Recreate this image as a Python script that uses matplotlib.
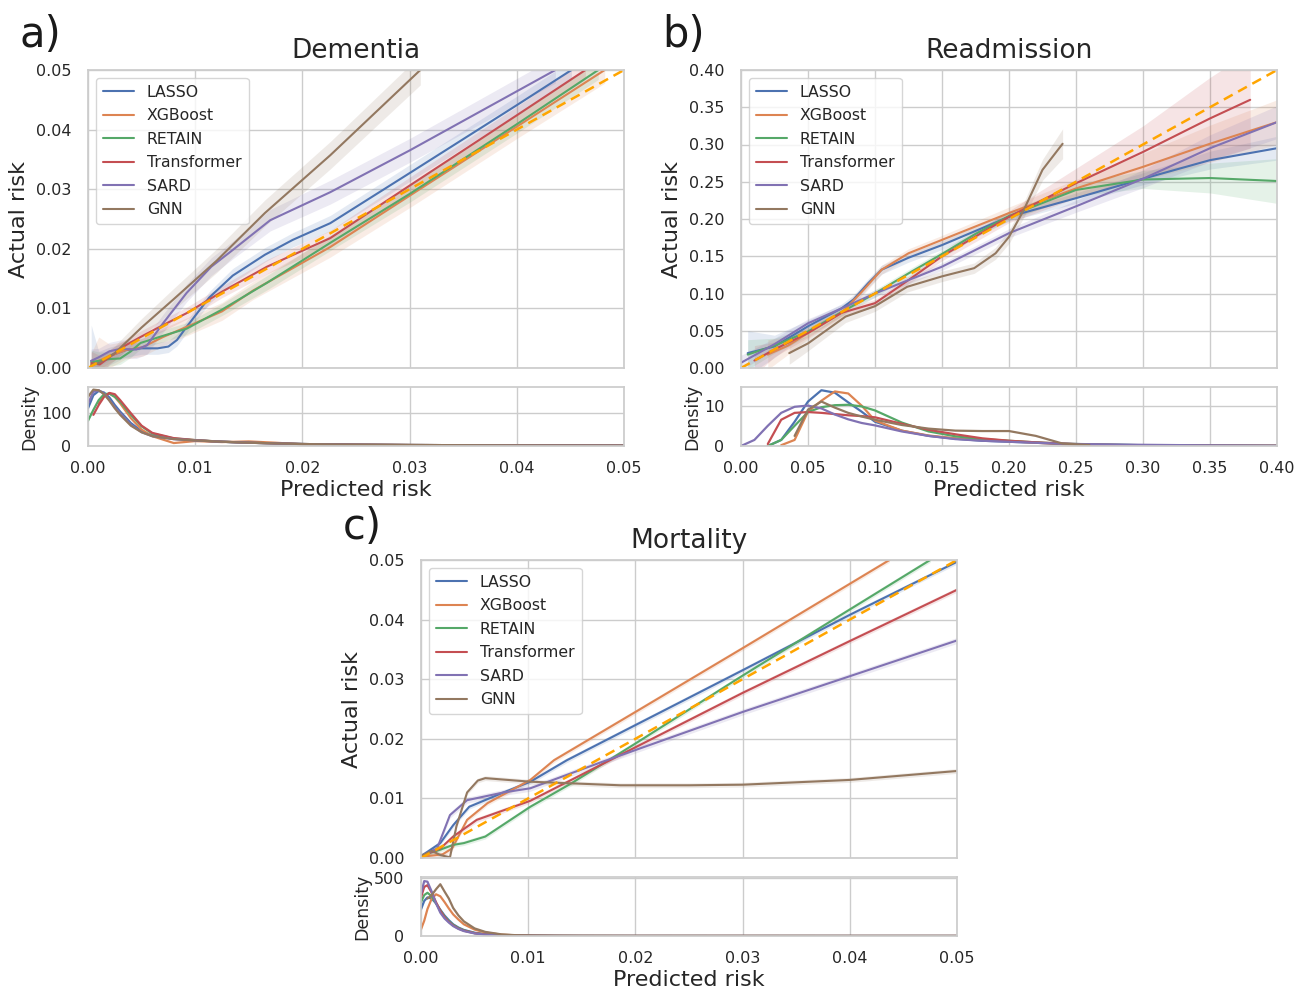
import numpy as np
import matplotlib
matplotlib.use("Agg")
import matplotlib.pyplot as plt
import seaborn as sns

sns.set_style("whitegrid")
plt.rcParams['font.family'] = ['DejaVu Sans']

models = ["LASSO", "XGBoost", "RETAIN", "Transformer", "SARD", "GNN"]
colors = ["#4c72b0", "#dd8452", "#55a868", "#c44e52", "#8172b3", "#937860"]

# ---------------- Panel a: Dementia ----------------
dem_x = {
    "LASSO": [0.0003, 0.001, 0.002, 0.0035, 0.005, 0.0065, 0.0075, 0.0083, 0.0092, 0.0113, 0.0135, 0.0165, 0.0191, 0.0226, 0.03, 0.04, 0.0451],
    "XGBoost": [0.0003, 0.001, 0.002, 0.0035, 0.0051, 0.007, 0.0092, 0.0125, 0.0154, 0.0226, 0.03, 0.04, 0.0482],
    "RETAIN": [0.0003, 0.001, 0.002, 0.003, 0.004, 0.0049, 0.007, 0.0092, 0.0125, 0.0167, 0.0226, 0.03, 0.04, 0.0476],
    "Transformer": [0.0003, 0.0011, 0.002, 0.0035, 0.0049, 0.007, 0.0092, 0.0125, 0.0167, 0.0226, 0.03, 0.04, 0.0464],
    "SARD": [0.0003, 0.001, 0.002, 0.003, 0.0045, 0.0055, 0.007, 0.0092, 0.0115, 0.0135, 0.017, 0.0226, 0.03, 0.0436],
    "GNN": [0.0003, 0.001, 0.0025, 0.005, 0.0079, 0.012, 0.0165, 0.0226, 0.031],
}
dem_y = {
    "LASSO": [0.0012, 0.0008, 0.002, 0.003, 0.0033, 0.0033, 0.0036, 0.0047, 0.0069, 0.0118, 0.0155, 0.019, 0.0215, 0.0243, 0.0327, 0.0441, 0.050],
    "XGBoost": [0.0005, 0.0012, 0.002, 0.003, 0.0035, 0.0052, 0.0069, 0.0095, 0.013, 0.0203, 0.0289, 0.0405, 0.050],
    "RETAIN": [0.001, 0.0012, 0.0015, 0.0016, 0.0028, 0.0042, 0.0054, 0.0066, 0.0098, 0.0143, 0.021, 0.0292, 0.0409, 0.050],
    "Transformer": [0.0008, 0.0006, 0.0018, 0.0038, 0.0052, 0.0072, 0.0092, 0.0128, 0.017, 0.0218, 0.0306, 0.0424, 0.050],
    "SARD": [0.0012, 0.0018, 0.0028, 0.0032, 0.0031, 0.0038, 0.0075, 0.0126, 0.017, 0.0198, 0.0248, 0.0295, 0.0365, 0.050],
    "GNN": [0.0005, 0.0008, 0.0025, 0.0068, 0.0114, 0.018, 0.026, 0.0357, 0.050],
}
dem_ci = {
    "LASSO": [0.006, 0.002, 0.0015, 0.0012, 0.001, 0.001, 0.001, 0.001, 0.001, 0.001, 0.0012, 0.0012, 0.0012, 0.0013, 0.0014, 0.0015, 0.0016],
    "XGBoost": [0.002, 0.004, 0.002, 0.0015, 0.0015, 0.0015, 0.0015, 0.0015, 0.0015, 0.0017, 0.002, 0.002, 0.0022],
    "RETAIN": [0.002, 0.0015, 0.0012, 0.001, 0.001, 0.001, 0.001, 0.001, 0.001, 0.0012, 0.0013, 0.0014, 0.0015, 0.0016],
    "Transformer": [0.002, 0.0015, 0.0012, 0.001, 0.001, 0.001, 0.001, 0.001, 0.0012, 0.0013, 0.0014, 0.0015, 0.0016],
    "SARD": [0.002, 0.0015, 0.0015, 0.0015, 0.0015, 0.0015, 0.0015, 0.0015, 0.0015, 0.0015, 0.0018, 0.002, 0.002, 0.0022],
    "GNN": [0.001, 0.001, 0.0012, 0.0015, 0.0018, 0.002, 0.0022, 0.0023, 0.0025],
}
dem_dens_x = [0, 0.0005, 0.001, 0.0015, 0.002, 0.0025, 0.003, 0.004, 0.005, 0.006, 0.008, 0.01,
              0.0125, 0.015, 0.0175, 0.02, 0.025, 0.03, 0.04, 0.05]
nan = np.nan
dem_dens = {
    "LASSO": [115, 155, 168, 163, 148, 125, 105, 70, 45, 32, 22, 17, 13, 10, 8, 6, 4, 3, 2, 1],
    "XGBoost": [nan, nan, 130, 155, 160, 150, 130, 85, 50, 30, 9, 15, 12, 14, 10, 5, 4, 3, 2, 1],
    "RETAIN": [77, 110, 140, 158, 160, 150, 135, 95, 60, 38, 23, 18, 13, 10, 8, 6, 4, 3, 2, 1],
    "Transformer": [nan, 95, 125, 150, 162, 158, 140, 100, 62, 40, 24, 18, 13, 10, 8, 6, 4, 3, 2, 1],
    "SARD": [129, 165, 170, 160, 140, 118, 100, 65, 42, 30, 21, 17, 13, 10, 8, 6, 4, 3, 2, 1],
    "GNN": [150, 172, 170, 158, 138, 115, 95, 62, 42, 30, 21, 17, 13, 10, 8, 6, 4, 3, 2, 1],
}

# ---------------- Panel b: Readmission ----------------
rea_x = {
    "LASSO": [0.005, 0.025, 0.05, 0.075, 0.084, 0.095, 0.105, 0.125, 0.15, 0.2, 0.25, 0.3, 0.35, 0.4],
    "XGBoost": [0.02, 0.035, 0.05, 0.075, 0.089, 0.105, 0.125, 0.15, 0.2, 0.25, 0.3, 0.35, 0.4],
    "RETAIN": [0.005, 0.025, 0.05, 0.075, 0.1, 0.125, 0.15, 0.175, 0.2, 0.25, 0.3, 0.35, 0.4],
    "Transformer": [0.01, 0.025, 0.05, 0.075, 0.1, 0.125, 0.15, 0.2, 0.25, 0.3, 0.35, 0.38],
    "SARD": [0.0, 0.025, 0.05, 0.075, 0.1, 0.15, 0.2, 0.25, 0.3, 0.35, 0.4],
    "GNN": [0.036, 0.05, 0.078, 0.1, 0.124, 0.15, 0.174, 0.19, 0.2, 0.211, 0.225, 0.24],
}
rea_y = {
    "LASSO": [0.020, 0.029, 0.056, 0.080, 0.092, 0.114, 0.132, 0.148, 0.165, 0.203, 0.228, 0.254, 0.279, 0.295],
    "XGBoost": [0.018, 0.030, 0.047, 0.074, 0.100, 0.132, 0.154, 0.172, 0.208, 0.241, 0.270, 0.301, 0.330],
    "RETAIN": [0.018, 0.030, 0.049, 0.075, 0.100, 0.127, 0.153, 0.180, 0.204, 0.239, 0.253, 0.255, 0.251],
    "Transformer": [0.010, 0.025, 0.047, 0.074, 0.087, 0.118, 0.150, 0.203, 0.248, 0.290, 0.335, 0.360],
    "SARD": [0.007, 0.032, 0.060, 0.080, 0.100, 0.136, 0.181, 0.217, 0.254, 0.295, 0.330],
    "GNN": [0.020, 0.033, 0.069, 0.083, 0.109, 0.123, 0.134, 0.154, 0.176, 0.212, 0.266, 0.301],
}
rea_ci = {
    "LASSO": [0.03, 0.015, 0.008, 0.006, 0.006, 0.006, 0.006, 0.006, 0.006, 0.006, 0.007, 0.008, 0.012, 0.016],
    "XGBoost": [0.02, 0.012, 0.008, 0.006, 0.006, 0.006, 0.006, 0.006, 0.008, 0.012, 0.018, 0.025, 0.03],
    "RETAIN": [0.02, 0.01, 0.006, 0.005, 0.005, 0.005, 0.005, 0.005, 0.006, 0.008, 0.012, 0.02, 0.03],
    "Transformer": [0.02, 0.01, 0.006, 0.005, 0.005, 0.005, 0.006, 0.008, 0.02, 0.035, 0.055, 0.065],
    "SARD": [0.01, 0.008, 0.006, 0.005, 0.005, 0.005, 0.006, 0.008, 0.012, 0.018, 0.022],
    "GNN": [0.015, 0.01, 0.008, 0.007, 0.007, 0.007, 0.007, 0.008, 0.009, 0.01, 0.014, 0.02],
}
rea_dens_x = [0, 0.01, 0.02, 0.03, 0.04, 0.05, 0.06, 0.07, 0.08, 0.09, 0.1, 0.12, 0.14, 0.16, 0.18,
              0.2, 0.22, 0.24, 0.26, 0.3, 0.35, 0.4]
rea_dens = {
    "LASSO": [nan, nan, 0.0, 1.5, 6.0, 11.0, 13.8, 13.2, 10.8, 8.5, 6.0, 3.8, 2.5, 1.8, 1.3, 1.05, 0.8, 0.5, 0.35, 0.2, 0.1, 0.05],
    "XGBoost": [nan, nan, nan, 0.2, 1.5, 8.5, 11.2, 13.5, 13.0, 10.0, 6.3, 3.8, 2.6, 1.9, 1.5, 1.2, 0.8, 0.45, 0.3, 0.15, 0.08, 0.04],
    "RETAIN": [nan, nan, 0.0, 1.5, 5.0, 8.4, 9.6, 10.1, 10.2, 9.8, 8.8, 5.8, 3.6, 2.4, 1.7, 1.3, 0.9, 0.6, 0.4, 0.2, 0.1, 0.05],
    "Transformer": [nan, nan, 0.5, 6.5, 8.2, 8.4, 8.2, 7.9, 7.6, 7.4, 7.1, 5.5, 4.0, 2.9, 1.9, 1.3, 0.9, 0.6, 0.35, 0.15, 0.08, 0.04],
    "SARD": [0.0, 1.5, 5.0, 8.2, 9.7, 10.0, 9.3, 7.8, 6.6, 5.7, 5.1, 3.6, 2.5, 1.7, 1.3, 1.05, 0.8, 0.55, 0.45, 0.3, 0.15, 0.05],
    "GNN": [nan, nan, nan, nan, 2.5, 9.0, 11.0, 9.5, 8.2, 7.3, 6.5, 5.2, 4.3, 3.8, 3.7, 3.7, 2.5, 0.6, 0.25, nan, nan, nan],
}

# ---------------- Panel c: Mortality ----------------
mor_x = {
    "LASSO": [0.0, 0.0018, 0.003, 0.0045, 0.0077, 0.0102, 0.0136, 0.02, 0.03, 0.04, 0.05],
    "XGBoost": [0.0, 0.002, 0.0029, 0.0043, 0.0062, 0.0102, 0.0124, 0.02, 0.03, 0.0437],
    "RETAIN": [0.0, 0.0018, 0.003, 0.004, 0.006, 0.0102, 0.014, 0.02, 0.03, 0.04, 0.0475],
    "Transformer": [0.0, 0.0018, 0.003, 0.0052, 0.0102, 0.0174, 0.03, 0.04, 0.05],
    "SARD": [0.0, 0.0015, 0.0027, 0.0043, 0.0077, 0.0102, 0.0167, 0.03, 0.04, 0.05],
    "GNN": [0.0, 0.001, 0.0018, 0.0027, 0.0033, 0.0043, 0.0053, 0.006, 0.0102, 0.0186, 0.025, 0.03, 0.04, 0.05],
}
mor_y = {
    "LASSO": [0.0003, 0.0025, 0.0055, 0.0086, 0.011, 0.0128, 0.0164, 0.0223, 0.0315, 0.0408, 0.0497],
    "XGBoost": [0.0002, 0.0006, 0.0016, 0.0064, 0.0092, 0.0131, 0.0164, 0.0245, 0.0352, 0.050],
    "RETAIN": [0.0004, 0.0014, 0.0022, 0.0025, 0.0036, 0.0086, 0.0125, 0.0192, 0.0306, 0.0417, 0.050],
    "Transformer": [0.0003, 0.0016, 0.0036, 0.0064, 0.0096, 0.0162, 0.0277, 0.0364, 0.045],
    "SARD": [0.0003, 0.0016, 0.0072, 0.0097, 0.011, 0.0117, 0.016, 0.0245, 0.0305, 0.0365],
    "GNN": [0.0003, 0.0012, 0.0005, 0.0001, 0.0053, 0.011, 0.013, 0.0134, 0.0128, 0.0122, 0.0122, 0.0123, 0.0131, 0.0146],
}
mor_ci = [0.0004, 0.0004, 0.0004, 0.0004, 0.0005, 0.0004]
mor_dens_x = [0, 0.0003, 0.0006, 0.001, 0.0014, 0.0018, 0.0022, 0.0026, 0.003, 0.0035, 0.004, 0.005,
              0.006, 0.0075, 0.009, 0.0105, 0.0125, 0.015, 0.02, 0.03, 0.04, 0.05]
mor_dens = {
    "LASSO": [228, 300, 330, 320, 280, 225, 175, 135, 100, 72, 52, 28, 15, 7, 3.5, 2, 1, 0.6, 0.3, 0.2, 0.1, 0.1],
    "XGBoost": [57, 130, 230, 320, 357, 340, 290, 235, 185, 140, 100, 55, 30, 12, 5, 2, 1, 0.6, 0.3, 0.2, 0.1, 0.1],
    "RETAIN": [290, 350, 370, 340, 280, 220, 165, 125, 95, 67, 48, 25, 14, 6.5, 3, 2, 1, 0.6, 0.3, 0.2, 0.1, 0.1],
    "Transformer": [330, 420, 435, 370, 290, 215, 160, 120, 90, 63, 45, 24, 13, 6, 3, 2, 1, 0.6, 0.3, 0.2, 0.1, 0.1],
    "SARD": [357, 470, 465, 380, 280, 200, 150, 115, 85, 60, 42, 22, 12, 6, 3, 2, 1, 0.5, 0.3, 0.2, 0.1, 0.1],
    "GNN": [nan, nan, 320, 350, 400, 443, 380, 320, 240, 175, 125, 65, 35, 14, 6, 3, 1.5, 0.8, 0.4, 0.2, 0.1, 0.1],
}

W, H = 1308, 991
fig = plt.figure(figsize=(W / 100, H / 100), dpi=100)


def rect(l, t, r, b):
    return [l / W, 1 - b / H, (r - l) / W, (b - t) / H]


TICK = 11.5


def style(ax):
    for s in ax.spines.values():
        s.set_edgecolor("0.8")
        s.set_linewidth(1.25)
    ax.grid(True, color="0.8", linewidth=1.0)
    ax.tick_params(labelsize=TICK, colors="0.15", length=0)
    ax.tick_params(axis="y", pad=12)
    ax.tick_params(axis="x", pad=11)


def panel(xl, xr, top, bottom, dbottom, title, xs, ys, cis, dx, dd, lim, step, dyt, dylim):
    ax = fig.add_axes(rect(xl, top, xr, bottom))
    axd = fig.add_axes(rect(xl, bottom + 19, xr, dbottom))
    for i, m in enumerate(models):
        x = np.array(xs[m])
        y = np.array(ys[m])
        ci = np.array(cis[m]) if isinstance(cis, dict) else cis[i]
        ax.fill_between(x, y - ci, y + ci, color=colors[i], alpha=0.15, linewidth=0)
        ax.plot(x, y, color=colors[i], lw=1.5, label=m)
        axd.plot(dx, dd[m], color=colors[i], lw=1.6)
    ax.plot([0, lim], [0, lim], ls="--", color="#ffa500", lw=1.8, dashes=(4, 2.5))
    ticks = np.round(np.arange(0, lim + step / 2, step), 4)
    ax.set_xlim(0, lim)
    ax.set_ylim(0, lim)
    ax.set_xticks(ticks)
    ax.set_xticklabels([])
    ax.set_yticks(ticks)
    ax.set_yticklabels([f"{t:.2f}" for t in ticks])
    ax.set_ylabel("Actual risk", fontsize=16, color="0.15", labelpad=5)
    ax.set_title(title, fontsize=19, color="0.15", pad=9)
    style(ax)
    leg = ax.legend(loc="upper left", fontsize=11.3, frameon=True, framealpha=0.8,
                    edgecolor="0.8", borderpad=0.45, labelspacing=0.54, handlelength=2.0)
    for t in leg.get_texts():
        t.set_color("0.15")
    axd.set_xlim(0, lim)
    axd.set_ylim(0, dylim)
    axd.set_xticks(ticks)
    axd.set_xticklabels([f"{t:.2f}" for t in ticks])
    axd.set_yticks(dyt)
    axd.set_ylabel("Density", fontsize=12.5, color="0.15", labelpad=2)
    axd.set_xlabel("Predicted risk", fontsize=16, color="0.15", labelpad=3)
    style(axd)
    return ax, axd


panel(88, 624, 70, 368, 446, "Dementia", dem_x, dem_y, dem_ci, dem_dens_x, dem_dens,
      0.05, 0.01, [0, 100], 180)
panel(741, 1277, 70, 368, 446, "Readmission", rea_x, rea_y, rea_ci, rea_dens_x, rea_dens,
      0.40, 0.05, [0, 10], 14.6)
panel(421, 957, 560, 858, 936, "Mortality", mor_x, mor_y, mor_ci, mor_dens_x, mor_dens,
      0.05, 0.01, [0, 500], 505)

fig.text(20 / W, 1 - 35 / H, "a)", fontsize=30, va="center", ha="left", color="0.1")
fig.text(662 / W, 1 - 35 / H, "b)", fontsize=30, va="center", ha="left", color="0.1")
fig.text(343 / W, 1 - 527 / H, "c)", fontsize=30, va="center", ha="left", color="0.1")

fig.savefig("out.png", dpi=100)
